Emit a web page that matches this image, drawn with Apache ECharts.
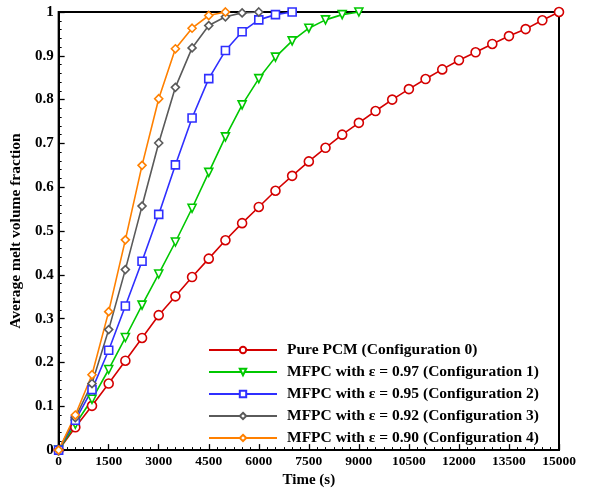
<!DOCTYPE html>
<html lang="en">
<head>
	<meta charset="UTF-8">
	<title>Melt fraction</title>
	<script type="text/javascript" src="https://cdn.jsdelivr.net/npm/echarts@6/dist/echarts.min.js"></script>
	<style type="text/css">
		body{margin:0;background:#fff;}
	</style>
</head>
<body>
	<div id="main" style="width:592px;height:493px;"></div>
	<script>
		// time in seconds, one sample each 500 s
		var times = [0,500,1000,1500,2000,2500,3000,3500,4000,4500,5000,5500,6000,6500,7000,7500,
			8000,8500,9000,9500,10000,10500,11000,11500,12000,12500,13000,13500,14000,14500,15000];
		var names = [
			'Pure PCM (Configuration 0)',
			'MFPC with ε = 0.97 (Configuration 1)',
			'MFPC with ε = 0.95 (Configuration 2)',
			'MFPC with ε = 0.92 (Configuration 3)',
			'MFPC with ε = 0.90 (Configuration 4)'
		];
		var pcm = [0,0.052,0.101,0.152,0.204,0.256,0.308,0.351,0.395,0.437,0.479,0.518,0.555,0.592,0.626,0.659,
			0.690,0.720,0.747,0.774,0.800,0.824,0.847,0.869,0.890,0.908,0.927,0.945,0.961,0.981,1.0];
		var eps97 = [0,0.059,0.116,0.184,0.257,0.331,0.402,0.475,0.552,0.634,0.715,0.788,0.848,0.897,0.934,0.963,0.982,0.994,1.0];
		var eps95 = [0,0.068,0.138,0.228,0.329,0.431,0.538,0.651,0.758,0.848,0.912,0.955,0.982,0.994,1.0];
		var eps92 = [0,0.074,0.152,0.275,0.412,0.557,0.701,0.828,0.918,0.969,0.989,0.998,1.0];
		var eps90 = [0,0.080,0.172,0.316,0.480,0.650,0.802,0.916,0.963,0.992,1.0];

		var font = 'Liberation Serif';

		function pairs(vals){
			var out = [];
			for(var i = 0;i<vals.length;i++){
				out.push([times[i], vals[i]]);
			}
			return out;
		}

		function line(name, vals, color, symbol, rotate){
			return {
				name: name,
				type: 'line',
				data: pairs(vals),
				symbol: symbol,
				symbolSize: symbol == 'circle' ? 9 : 8,
				symbolRotate: rotate || 0,
				showAllSymbol: true,
				lineStyle: {color: color, width: 1.6},
				itemStyle: {color: '#fff', borderColor: color, borderWidth: 1.6},
				color: color
			};
		}

		var chart = echarts.init(document.getElementById('main'));
		var option = {
			animation: false,
			textStyle: {fontFamily: font},
			grid: {left: 58, right: 33, top: 12, bottom: 35, show: true, borderColor: '#000', borderWidth: 2},
			legend: {
				orient: 'vertical',
				left: 208,
				top: 342,
				padding: 0,
				itemWidth: 68,
				itemHeight: 8,
				itemGap: 6,
				data: names,
				textStyle: {fontFamily: font, fontWeight: 'bold', fontSize: 15.5, lineHeight: 14, color: '#000',
					padding: [0, 0, 0, 5]}
			},
			xAxis: {
				type: 'value',
				min: 0,
				max: 15000,
				interval: 1500,
				name: 'Time (s)',
				nameLocation: 'middle',
				nameGap: 17,
				nameTextStyle: {fontFamily: font, fontWeight: 'bold', fontSize: 15, color: '#000'},
				axisLine: {lineStyle: {color: '#000', width: 2}},
				axisTick: {inside: true, length: 6, lineStyle: {color: '#000', width: 1.3}},
				minorTick: {show: true, splitNumber: 6, length: 3, lineStyle: {color: '#000', width: 1}},
				axisLabel: {margin: 4, fontFamily: font, fontWeight: 'bold', fontSize: 13.5, color: '#000',
					formatter: function(v){ return String(v); }},
				splitLine: {show: false}
			},
			yAxis: {
				type: 'value',
				min: 0,
				max: 1,
				interval: 0.1,
				name: 'Average melt volume fraction',
				nameLocation: 'middle',
				nameGap: 33,
				nameTextStyle: {fontFamily: font, fontWeight: 'bold', fontSize: 15.5, color: '#000'},
				axisLine: {lineStyle: {color: '#000', width: 2}},
				axisTick: {inside: true, length: 6, lineStyle: {color: '#000', width: 1.3}},
				minorTick: {show: true, splitNumber: 5, length: 3, lineStyle: {color: '#000', width: 1}},
				axisLabel: {margin: 5, fontFamily: font, fontWeight: 'bold', fontSize: 15, color: '#000'},
				splitLine: {show: false}
			},
			series: [
				line(names[0], pcm, '#d40000', 'circle'),
				line(names[1], eps97, '#00c800', 'triangle', 180),
				line(names[2], eps95, '#2f2fff', 'rect'),
				line(names[3], eps92, '#5a5a5a', 'diamond'),
				line(names[4], eps90, '#ff8000', 'diamond')
			]
		};
		chart.setOption(option);
	</script>
</body>
</html>
